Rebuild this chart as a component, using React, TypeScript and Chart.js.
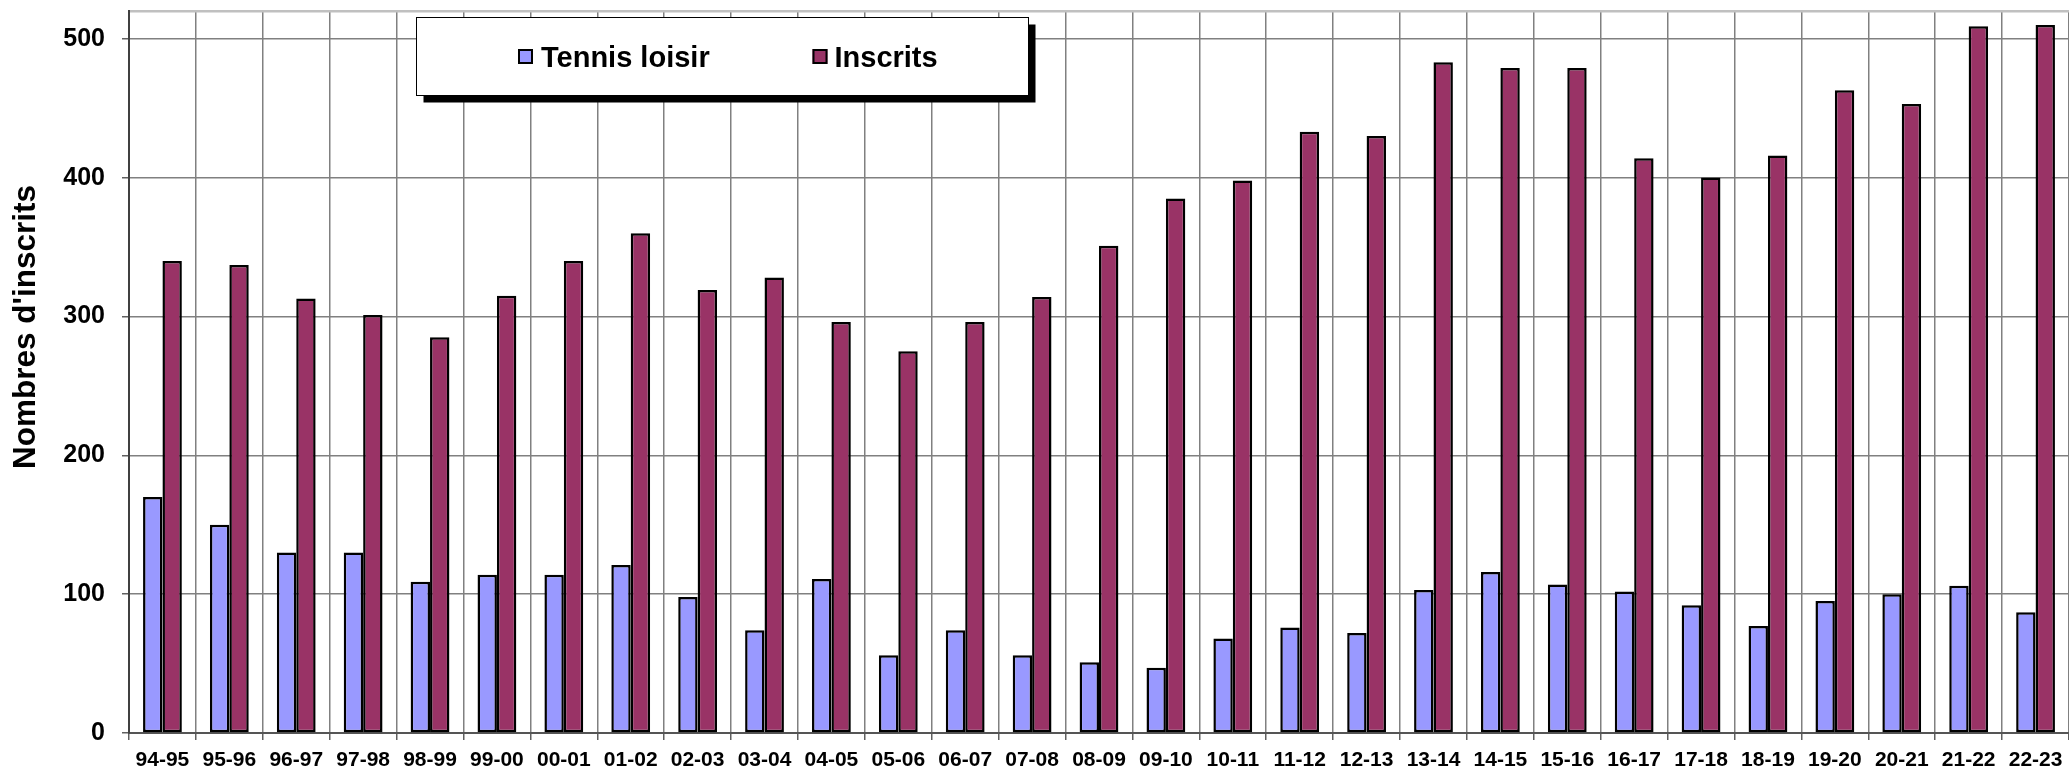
import React, { useEffect, useRef } from "react";
import { Chart, registerables } from "chart.js";

Chart.register(...registerables);

const categories = [
  "94-95", "95-96", "96-97", "97-98", "98-99", "99-00", "00-01", "01-02", "02-03", "03-04",
  "04-05", "05-06", "06-07", "07-08", "08-09", "09-10", "10-11", "11-12", "12-13", "13-14",
  "14-15", "15-16", "16-17", "17-18", "18-19", "19-20", "20-21", "21-22", "22-23",
];

const tennisLoisir = [
  170, 150, 130, 130, 109, 114, 114, 121, 98, 74,
  111, 56, 74, 56, 51, 47, 68, 76, 72, 103,
  116, 107, 102, 92, 77, 95, 100, 106, 87,
];

const inscrits = [
  340, 337, 313, 301, 285, 315, 340, 360, 319, 328,
  296, 275, 296, 314, 351, 385, 398, 433, 430, 483,
  479, 479, 414, 400, 416, 463, 453, 509, 510,
];

const seriesNames = ["Tennis loisir", "Inscrits"];
const yAxisTitle = "Nombres d'inscrits";
const yTickValues = [0, 100, 200, 300, 400, 500];
const yMax = 520;

const FONT = "'Liberation Sans', Arial, sans-serif";
const BLUE = "#9999FF";
const RED = "#993366";

const decorPlugin = {
  id: "decor",
  afterDraw(chart: any) {
    const ctx = chart.ctx;
    ctx.save();
    // y axis title
    ctx.fillStyle = "#000";
    ctx.font = `bold 31.5px ${FONT}`;
    ctx.textAlign = "center";
    ctx.textBaseline = "middle";
    ctx.translate(26, 327);
    ctx.rotate(-Math.PI / 2);
    ctx.fillText(yAxisTitle, 0, 0);
    ctx.restore();

    // legend box
    ctx.save();
    const bx = 416.5, by = 17.5, bw = 612, bh = 78;
    ctx.fillStyle = "#000";
    ctx.fillRect(bx + 7, by + 7, bw, bh);
    ctx.fillStyle = "#fff";
    ctx.fillRect(bx, by, bw, bh);
    ctx.strokeStyle = "#000";
    ctx.lineWidth = 1;
    ctx.strokeRect(bx, by, bw, bh);

    const items = [
      { sx: 518, tx: 541, color: chart.data.datasets[0].backgroundColor, label: chart.data.datasets[0].label },
      { sx: 812.5, tx: 834.5, color: chart.data.datasets[1].backgroundColor, label: chart.data.datasets[1].label },
    ];
    ctx.font = `bold 29px ${FONT}`;
    ctx.textAlign = "left";
    ctx.textBaseline = "alphabetic";
    for (const it of items) {
      ctx.fillStyle = it.color;
      ctx.fillRect(it.sx, 49, 15, 15);
      ctx.lineWidth = 2;
      ctx.strokeStyle = "#000";
      ctx.strokeRect(it.sx + 1, 50, 13, 13);
      ctx.fillStyle = "#000";
      ctx.fillText(it.label, it.tx, 67);
    }
    ctx.restore();
  },
};

export default function App() {
  const ref = useRef<HTMLCanvasElement | null>(null);

  useEffect(() => {
    if (!ref.current) return;
    const chart = new Chart(ref.current, {
      type: "bar",
      data: {
        labels: categories,
        datasets: [
          {
            label: seriesNames[0],
            data: tennisLoisir,
            backgroundColor: BLUE,
            borderColor: "#000",
            borderWidth: 2.5,
            borderSkipped: false,
          },
          {
            label: seriesNames[1],
            data: inscrits,
            backgroundColor: RED,
            borderColor: "#000",
            borderWidth: 2.5,
            borderSkipped: false,
          },
        ],
      },
      options: {
        responsive: false,
        maintainAspectRatio: false,
        animation: false,
        devicePixelRatio: 1,
        layout: { padding: { left: 0, top: 11, right: 0, bottom: 0 } },
        datasets: {
          bar: { categoryPercentage: 0.58, barPercentage: 1.0 },
        },
        plugins: {
          legend: { display: false },
          tooltip: { enabled: false },
          title: { display: false },
        },
        scales: {
          x: {
            offset: true,
            grid: {
              offset: true,
              color: "#808080",
              lineWidth: 1.5,
              tickLength: 7,
              tickColor: "#606060",
              drawTicks: true,
            },
            border: { display: true, color: "#555", width: 2 },
            ticks: {
              color: "#000",
              font: { family: FONT, size: 21, weight: "bold" },
              padding: 7.5,
              maxRotation: 0,
              minRotation: 0,
              autoSkip: false,
            },
            afterFit(scale: any) {
              scale.height = 39;
              scale.paddingLeft = 0;
              scale.paddingRight = 0;
            },
          },
          y: {
            min: 0,
            max: yMax,
            afterBuildTicks(scale: any) {
              scale.ticks = [...yTickValues, yMax].map((v) => ({ value: v }));
            },
            ticks: {
              color: "#000",
              font: { family: FONT, size: 25, weight: "bold" },
              padding: 17,
              callback: (v: any) => (v === yMax ? "" : String(v)),
            },
            grid: {
              color: (c: any) => (c.tick && c.tick.value === yMax ? "#c0c0c0" : "#808080"),
              lineWidth: (c: any) => (c.tick && c.tick.value === yMax ? 2.5 : 1.5),
              tickLength: 7,
              tickColor: (c: any) => (c.tick && c.tick.value === yMax ? "rgba(0,0,0,0)" : "#606060"),
            },
            border: { display: true, color: "#404040", width: 2 },
            afterFit(scale: any) {
              scale.width = 129;
              scale.paddingTop = 0;
              scale.paddingBottom = 0;
            },
          },
        },
      },
      plugins: [decorPlugin],
    });
    return () => chart.destroy();
  }, []);

  return (
    <div style={{ position: "fixed", left: 0, top: 0, width: 2069, height: 772, background: "#fff" }}>
      <canvas ref={ref} width={2069} height={772} style={{ display: "block" }} />
    </div>
  );
}
